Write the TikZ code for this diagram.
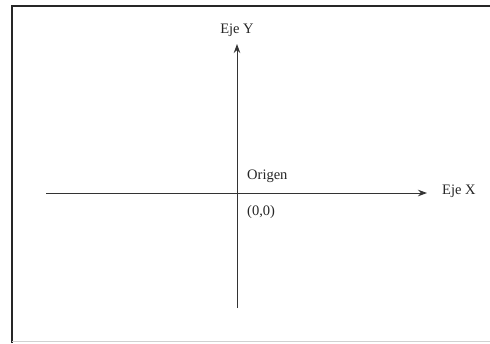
\documentclass[tikz,border=0pt]{standalone}
\usepackage{fontspec}
\setmainfont{Liberation Serif}
\usetikzlibrary{arrows.meta,positioning}

\begin{document}
\begin{tikzpicture}[x=1pt,y=-1pt,font=\fontsize{14.5}{16}\selectfont,
  axis/.style={-{Stealth[length=9pt,width=6.5pt]},line width=0.9pt,black!80},
  lab/.style={inner sep=1pt,text=black!85}]
 \useasboundingbox (0,0) rectangle (490,343);
 % ---- frame ----
 \draw[line width=1.8pt,black!85] (12,343) -- (12,6) -- (490,6);
 \draw[line width=1pt,black!18] (12,341.5) -- (490,341.5);
 % ---- axes ----
 \coordinate (O) at (237,193);
 \coordinate (xs) at (46,193);
 \coordinate (xe) at (427,193);
 \coordinate (ys) at (237,308);
 \coordinate (ye) at (237,44);
 \draw[axis] (xs) -- (xe);
 \draw[axis] (ys) -- (ye);
 % ---- labels ----
 \node[lab,anchor=west] (ejex) at (441,191) {Eje X};
 \node[lab] (ejey) at (237,30) {Eje Y};
 \node[lab,anchor=west] (orig) at (246,176) {Origen};
 \node[lab,anchor=west] (cero) at (246,212) {(0,0)};
\end{tikzpicture}
\end{document}
